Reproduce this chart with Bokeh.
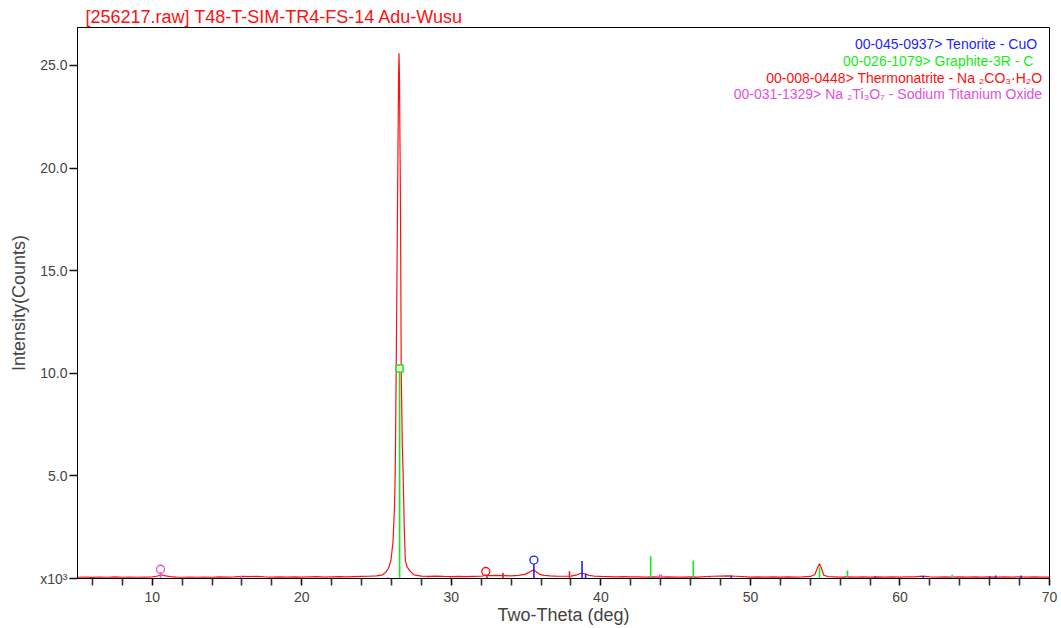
from bokeh.plotting import figure
from bokeh.models import Range1d, FixedTicker, CustomJSTickFormatter, ColumnDataSource
from bokeh.core.properties import value
from bokeh.embed import file_html
from bokeh.resources import INLINE

FONT = "Liberation Sans"

# ---------------- data (2-theta in deg, intensity in x10^3 counts) ----------------
pattern_x = [5.0, 5.5, 6.0, 6.5, 7.0, 7.5, 8.0, 8.5, 9.0, 9.5, 10.0, 10.3, 10.5, 10.7, 10.9,
             11.2, 11.6, 12.0, 12.5, 13.0, 13.5, 14.0, 14.5, 15.0, 15.5, 16.0, 16.5, 17.0,
             17.5, 18.0, 18.5, 19.0, 19.5, 20.0, 20.5, 21.0, 21.5, 22.0, 22.5, 23.0, 23.5,
             24.0, 24.5, 25.0, 25.4, 25.6, 25.8, 25.96, 26.1, 26.2, 26.25, 26.31, 26.4,
             26.47, 26.5, 26.53, 26.6, 26.65, 26.72, 26.77, 26.85, 26.92, 27.05, 27.25,
             27.5, 28.0, 28.5, 29.0, 29.5, 30.0, 30.5, 31.0, 31.5, 32.0, 32.3, 32.5, 33.0,
             33.5, 34.0, 34.5, 34.9, 35.2, 35.5, 35.7, 35.9, 36.2, 36.6, 37.0, 37.5, 38.0,
             38.4, 38.7, 38.95, 39.2, 39.6, 40.0, 40.5, 41.0, 41.5, 42.0, 42.5, 43.0, 43.5,
             44.0, 44.5, 45.0, 45.5, 46.0, 46.5, 47.0, 47.5, 48.0, 48.5, 49.0, 49.5, 50.0,
             50.5, 51.0, 51.5, 52.0, 52.5, 53.0, 53.5, 54.0, 54.3, 54.5, 54.62, 54.75, 54.9,
             55.2, 55.6, 56.0, 56.5, 57.0, 57.5, 58.0, 58.5, 59.0, 59.5, 60.0, 60.5, 61.0,
             61.5, 62.0, 62.5, 63.0, 63.5, 64.0, 64.5, 65.0, 65.5, 66.0, 66.5, 67.0, 67.5,
             68.0, 68.5, 69.0, 69.5, 70.0]
pattern_y = [0.06, 0.07, 0.05, 0.07, 0.06, 0.08, 0.06, 0.07, 0.06, 0.07, 0.08, 0.11, 0.16, 0.17, 0.13,
             0.09, 0.07, 0.06, 0.07, 0.06, 0.07, 0.06, 0.08, 0.07, 0.08, 0.10, 0.09, 0.10,
             0.08, 0.07, 0.08, 0.07, 0.08, 0.07, 0.08, 0.09, 0.07, 0.08, 0.09, 0.08, 0.09,
             0.10, 0.11, 0.13, 0.18, 0.30, 0.50, 0.88, 1.8, 3.5, 5.26, 10.0, 18.0,
             24.5, 25.6, 24.5, 18.0, 10.0, 6.5, 5.26, 2.5, 0.88, 0.55, 0.35,
             0.18, 0.12, 0.10, 0.12, 0.10, 0.09, 0.10, 0.09, 0.10, 0.11, 0.16, 0.14, 0.15,
             0.14, 0.13, 0.15, 0.20, 0.30, 0.42, 0.32, 0.20, 0.15, 0.13, 0.12, 0.11, 0.12,
             0.18, 0.27, 0.22, 0.15, 0.11, 0.10, 0.09, 0.08, 0.09, 0.08, 0.08, 0.07, 0.08,
             0.07, 0.08, 0.07, 0.07, 0.08, 0.07, 0.09, 0.11, 0.12, 0.13, 0.11, 0.09, 0.07,
             0.08, 0.07, 0.08, 0.07, 0.08, 0.07, 0.08, 0.10, 0.18, 0.55, 0.72, 0.50, 0.16,
             0.09, 0.08, 0.07, 0.08, 0.07, 0.08, 0.07, 0.08, 0.07, 0.08, 0.07, 0.08, 0.08,
             0.12, 0.08, 0.07, 0.08, 0.07, 0.08, 0.07, 0.08, 0.07, 0.08, 0.07, 0.08, 0.07,
             0.08, 0.07, 0.08, 0.07, 0.07]

# reference stick patterns
tenorite_x = [35.52, 38.74, 38.98, 48.72, 58.35, 61.56, 66.0, 66.4, 68.1]
tenorite_h = [0.70, 0.85, 0.24, 0.15, 0.10, 0.12, 0.10, 0.15, 0.15]
tenorite_mark = [(35.52, 0.90)]

graphite_x = [26.54, 43.33, 46.18, 54.62, 56.49, 63.49]
graphite_h = [10.23, 1.09, 0.88, 0.55, 0.39, 0.18]
graphite_mark = [(26.54, 10.23)]

thermo_x = [32.38, 33.45, 37.9]
thermo_h = [0.18, 0.28, 0.35]
thermo_mark = [(32.3, 0.34)]

natio_x = [10.55, 15.93, 25.74, 28.46, 29.95, 43.92, 44.05, 47.3, 50.8, 57.2, 62.9, 65.4, 66.9, 68.0]
natio_h = [0.30, 0.12, 0.06, 0.06, 0.06, 0.20, 0.20, 0.06, 0.06, 0.06, 0.06, 0.06, 0.08, 0.08]
natio_mark = [(10.55, 0.45)]

legend_text = ["00-045-0937> Tenorite - CuO",
               "00-026-1079> Graphite-3R - C",
               "00-008-0448> Thermonatrite - Na \u2082CO\u2083\u00b7H\u2082O",
               "00-031-1329> Na \u2082Ti\u2083O\u2087 - Sodium Titanium Oxide"]
legend_x = [69.19, 68.92, 69.52, 69.52]
legend_y = [26.07, 25.24, 24.41, 23.63]

x_ticks = [10, 20, 30, 40, 50, 60, 70]
x_minor = [6, 8, 12, 14, 16, 18, 22, 24, 26, 28, 32, 34, 36, 38, 42, 44, 46, 48,
           52, 54, 56, 58, 62, 64, 66, 68]
y_ticks = [0, 5, 10, 15, 20, 25]

BLUE = "#1f1fff"
GREEN = "#11ee11"
RED = "#ff1010"
MAGENTA = "#e050e0"

# ---------------- figure ----------------
p = figure(width=1061, height=628, x_range=Range1d(5, 70), y_range=Range1d(0, 26.85),
           output_backend="svg", toolbar_location=None,
           min_border_left=77, min_border_right=12, min_border_top=27, min_border_bottom=50)

p.title.text = "[256217.raw] T48-T-SIM-TR4-FS-14 Adu-Wusu"
p.title.text_font = FONT
p.title.text_font_size = "18px"
p.title.text_font_style = "normal"
p.title.text_color = RED
p.title.align = "left"
p.title.offset = 8
p.title.standoff = 2

p.xgrid.visible = False
p.ygrid.visible = False
p.outline_line_color = "black"
p.outline_line_alpha = 1.0
p.outline_line_width = 1

xa = p.xaxis[0]
xa.ticker = FixedTicker(ticks=x_ticks, minor_ticks=x_minor)
xa.axis_label = "Two-Theta (deg)"
xa.axis_label_text_font = FONT
xa.axis_label_text_font_size = "18px"
xa.axis_label_text_font_style = "normal"
xa.axis_label_standoff = 0
xa.major_label_text_font = FONT
xa.major_label_text_font_size = "14px"
xa.major_label_standoff = 6
xa.major_tick_out = 7
xa.major_tick_in = 0
xa.minor_tick_out = 7
xa.minor_tick_in = 0
xa.axis_line_color = "black"
xa.axis_line_width = 1
xa.major_tick_line_color = "#111111"
xa.major_tick_line_width = 1.6
xa.minor_tick_line_color = "#333333"
xa.minor_tick_line_width = 1.6

ya = p.yaxis[0]
ya.ticker = FixedTicker(ticks=y_ticks, minor_ticks=[])
ya.formatter = CustomJSTickFormatter(code='return tick == 0 ? "x10\u00b3" : tick.toFixed(1);')
ya.axis_label = "Intensity(Counts)"
ya.axis_label_text_font = FONT
ya.axis_label_text_font_size = "18px"
ya.axis_label_text_font_style = "normal"
ya.axis_label_standoff = 8
ya.major_label_text_font = FONT
ya.major_label_text_font_size = "14px"
ya.major_label_standoff = 2
ya.major_tick_out = 8
ya.major_tick_in = 0
ya.minor_tick_out = 0
ya.minor_tick_in = 0
ya.axis_line_color = "black"
ya.axis_line_width = 1
ya.major_tick_line_color = "#111111"
ya.major_tick_line_width = 1.6

# measured pattern
p.line(pattern_x, pattern_y, line_color=RED, line_width=1.2)

# reference sticks
for xs, hs, col in [(natio_x, natio_h, MAGENTA), (thermo_x, thermo_h, RED),
                    (tenorite_x, tenorite_h, BLUE), (graphite_x, graphite_h, GREEN)]:
    p.segment(x0=xs, y0=[0] * len(xs), x1=xs, y1=hs, line_color=col, line_width=1.6)

for marks, col in [(natio_mark, MAGENTA), (thermo_mark, RED), (tenorite_mark, BLUE)]:
    p.scatter([m[0] for m in marks], [m[1] for m in marks], marker="circle", size=8,
              line_color=col, line_width=1.3, fill_color="white", fill_alpha=0.0)
p.scatter([m[0] for m in graphite_mark], [m[1] for m in graphite_mark], marker="square",
          size=7, line_color=GREEN, line_width=1.5, fill_color="white")

# legend texts
src = ColumnDataSource(dict(x=legend_x, y=legend_y, t=legend_text,
                            c=[BLUE, GREEN, RED, MAGENTA]))
p.text(x="x", y="y", text="t", text_color="c", source=src, text_align="right",
       text_baseline="middle", text_font=value(FONT), text_font_size="14px")

open("out.html", "w").write(file_html(p, INLINE))
